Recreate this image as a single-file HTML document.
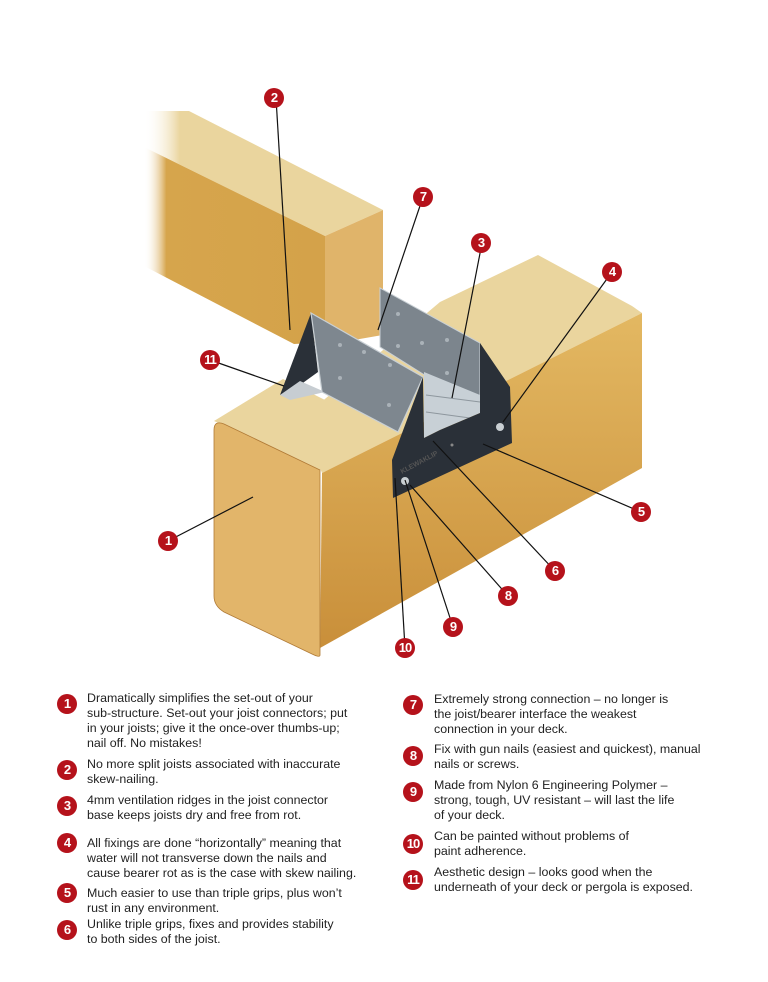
<!DOCTYPE html>
<html><head><meta charset="utf-8"><style>
body{margin:0;background:#fff;width:768px;height:982px;overflow:hidden;position:relative;font-family:"Liberation Sans",sans-serif}
.t{position:absolute;font-size:12.4px;line-height:15px;color:#222;white-space:nowrap}
.c{position:absolute;width:20px;height:20px;border-radius:50%;background:#b5121b;color:#fff;font-weight:bold;font-size:13px;line-height:20px;text-align:center;letter-spacing:-1px}
</style></head><body>
<svg width="768" height="680" style="position:absolute;left:0;top:0">
<defs>
<linearGradient id="sd" x1="0" y1="0" x2="1" y2="0"><stop offset="0" stop-color="#fff" stop-opacity="0"/><stop offset="0.12" stop-color="#d6a54c"/><stop offset="1" stop-color="#d4a24a"/></linearGradient>
<linearGradient id="tp" x1="0" y1="0" x2="1" y2="0"><stop offset="0" stop-color="#fff" stop-opacity="0"/><stop offset="0.15" stop-color="#ead59e"/></linearGradient>
<linearGradient id="bs" x1="0" y1="0" x2="0" y2="1"><stop offset="0" stop-color="#e3b862"/><stop offset="1" stop-color="#c98f3a"/></linearGradient>
</defs>
<!-- upper joist -->
<polygon points="144,111 189,111 383,210 325,236 144,147" fill="url(#tp)"/>
<polygon points="144,147 325,236 330,342 294,344 144,266" fill="url(#sd)"/>
<polygon points="325,236 383,210 383,335 325,345" fill="#e0b46a"/>
<!-- bearer -->
<polygon points="440,302 538,255 632,306 642,313 322,473 300,420" fill="#ead59e"/>
<polygon points="322,473 642,313 642,468 320,648" fill="url(#bs)"/>
<!-- front joist -->
<polygon points="214,421 283,379 395,435 320,470" fill="#ead59e"/>
<path d="M214,430 Q214,420 224,424 L320,470 L320,655 Q320,658 312,654 L224,612 Q214,606 214,596 Z" fill="#e2b56a" stroke="#b07a36" stroke-width="0.8"/>
<!-- connector back plate -->
<polygon points="380,288 480,343 480,410 380,347" fill="#7c858d" stroke="#c9d0d5" stroke-width="1"/>
<!-- ridges -->
<polygon points="424,372 480,395 480,413 440,430 424,438" fill="#c8d0d6"/>
<g stroke="#8e979e" stroke-width="1"><line x1="426" y1="395" x2="480" y2="402"/><line x1="426" y1="412" x2="470" y2="418"/></g>
<!-- left flange -->
<polygon points="311,313 280,395 300,385 318,372" fill="#2a3038"/>
<polygon points="280,395 300,381 325,392 290,400" fill="#c7cdd2"/>
<!-- front plate -->
<polygon points="311,313 423,377 398,432 322,392" fill="#7e878f" stroke="#c9d0d5" stroke-width="1.2"/>
<!-- dark end plate -->
<polygon points="392,460 423,377 424,438 440,430 480,413 480,343 510,387 512,443 393,498" fill="#2a3038"/>
<circle cx="500" cy="427" r="4" fill="#c9cfd3"/><circle cx="405" cy="481" r="4" fill="#c9cfd3"/><circle cx="452" cy="445" r="1.5" fill="#888"/>
<text x="402" y="474" font-size="7" fill="#555" transform="rotate(-28 402 474)" font-family="Liberation Sans" font-weight="bold">KLEWAKLIP</text>
<g fill="#aab2b8"><circle cx="340" cy="345" r="2"/><circle cx="364" cy="352" r="2"/><circle cx="390" cy="365" r="2"/><circle cx="340" cy="378" r="2"/><circle cx="389" cy="405" r="2"/><circle cx="398" cy="314" r="2"/><circle cx="398" cy="346" r="2"/><circle cx="422" cy="343" r="2"/><circle cx="447" cy="340" r="2"/><circle cx="447" cy="373" r="2"/></g>
<!-- leader lines -->
<g stroke="#111" stroke-width="1.2" fill="none">
<line x1="276" y1="98" x2="290" y2="330"/><line x1="423" y1="197" x2="378" y2="330"/>
<line x1="482" y1="243" x2="452" y2="398"/><line x1="612" y1="272" x2="503" y2="422"/>
<line x1="210" y1="360" x2="284" y2="386"/><line x1="168" y1="541" x2="253" y2="497"/>
<line x1="641" y1="512" x2="483" y2="444"/><line x1="555" y1="571" x2="433" y2="441"/>
<line x1="508" y1="596" x2="410" y2="485"/><line x1="453" y1="627" x2="405" y2="480"/>
<line x1="405" y1="648" x2="395" y2="478"/>
</g>
</svg>
<div class="c" style="left:264px;top:88px">2</div>
<div class="c" style="left:413px;top:187px">7</div>
<div class="c" style="left:471px;top:233px">3</div>
<div class="c" style="left:602px;top:262px">4</div>
<div class="c" style="left:200px;top:350px">11</div>
<div class="c" style="left:158px;top:531px">1</div>
<div class="c" style="left:631px;top:502px">5</div>
<div class="c" style="left:545px;top:561px">6</div>
<div class="c" style="left:498px;top:586px">8</div>
<div class="c" style="left:443px;top:617px">9</div>
<div class="c" style="left:395px;top:638px">10</div>

<div class="c" style="left:57px;top:694px">1</div>
<div class="t" style="left:87px;top:691px">Dramatically simplifies the set-out of your<br>sub-structure. Set-out your joist connectors; put<br>in your joists; give it the once-over thumbs-up;<br>nail off. No mistakes!</div>
<div class="c" style="left:57px;top:760px">2</div>
<div class="t" style="left:87px;top:757px">No more split joists associated with inaccurate<br>skew-nailing.</div>
<div class="c" style="left:57px;top:796px">3</div>
<div class="t" style="left:87px;top:793px">4mm ventilation ridges in the joist connector<br>base keeps joists dry and free from rot.</div>
<div class="c" style="left:57px;top:833px">4</div>
<div class="t" style="left:87px;top:836px">All fixings are done “horizontally” meaning that<br>water will not transverse down the nails and<br>cause bearer rot as is the case with skew nailing.</div>
<div class="c" style="left:57px;top:883px">5</div>
<div class="t" style="left:87px;top:886px">Much easier to use than triple grips, plus won’t<br>rust in any environment.</div>
<div class="c" style="left:57px;top:920px">6</div>
<div class="t" style="left:87px;top:917px">Unlike triple grips, fixes and provides stability<br>to both sides of the joist.</div>

<div class="c" style="left:403px;top:695px">7</div>
<div class="t" style="left:434px;top:692px">Extremely strong connection – no longer is<br>the joist/bearer interface the weakest<br>connection in your deck.</div>
<div class="c" style="left:403px;top:746px">8</div>
<div class="t" style="left:434px;top:742px">Fix with gun nails (easiest and quickest), manual<br>nails or screws.</div>
<div class="c" style="left:403px;top:782px">9</div>
<div class="t" style="left:434px;top:778px">Made from Nylon 6 Engineering Polymer –<br>strong, tough, UV resistant – will last the life<br>of your deck.</div>
<div class="c" style="left:403px;top:834px">10</div>
<div class="t" style="left:434px;top:829px">Can be painted without problems of<br>paint adherence.</div>
<div class="c" style="left:403px;top:870px">11</div>
<div class="t" style="left:434px;top:865px">Aesthetic design – looks good when the<br>underneath of your deck or pergola is exposed.</div>
</body></html>
